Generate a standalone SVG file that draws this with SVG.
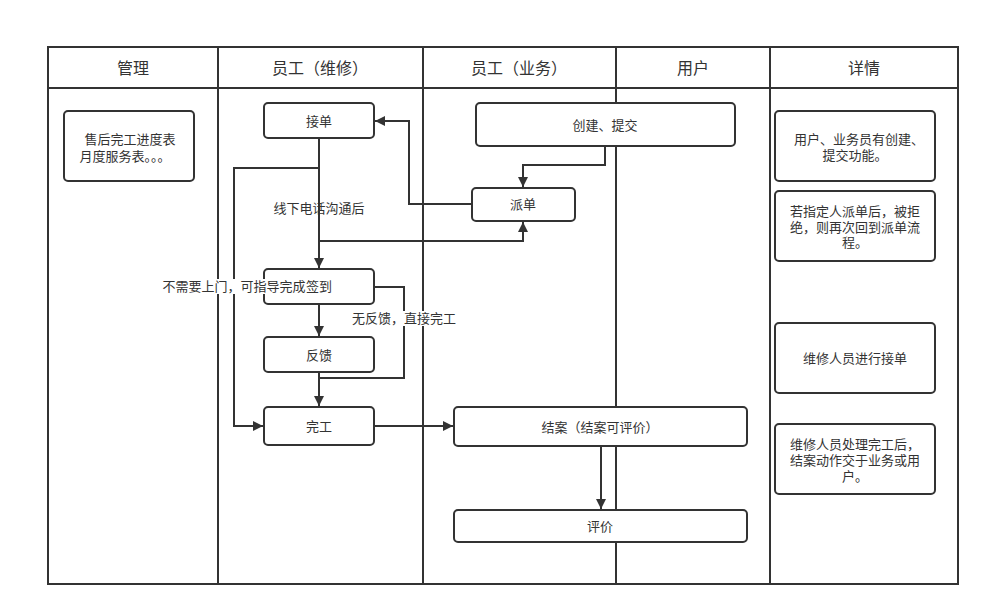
<svg xmlns="http://www.w3.org/2000/svg" width="990" height="616" viewBox="0 0 990 616">
<defs>
<style>
text{font-family:"Liberation Sans","Noto Sans CJK SC",sans-serif;fill:#333;text-anchor:middle;dominant-baseline:central;}
.hd{font-size:16px;}
.t{font-size:13px;}
.lane{fill:none;stroke:#333;stroke-width:2;}
.node{fill:#fff;stroke:#333;stroke-width:2;}
.c{fill:none;stroke:#333;stroke-width:2;}
.lb{fill:#fff;}
</style>
<marker id="arr" viewBox="0 0 10 10" refX="10" refY="5" markerWidth="10" markerHeight="10" markerUnits="userSpaceOnUse" orient="auto">
<path d="M0,0 L10,5 L0,10 z" fill="#333"/>
</marker>
</defs>
<rect width="990" height="616" fill="#fff"/>
<g id="lanes">
<rect class="lane" x="48" y="47" width="910" height="537"/>
<line class="lane" x1="48" y1="88" x2="958" y2="88"/>
<line class="lane" x1="218" y1="47" x2="218" y2="584"/>
<line class="lane" x1="423" y1="47" x2="423" y2="584"/>
<line class="lane" x1="616" y1="47" x2="616" y2="584"/>
<line class="lane" x1="770" y1="47" x2="770" y2="584"/>
<text class="hd" x="133" y="68">管理</text>
<text class="hd" x="320" y="68">员工（维修）</text>
<text class="hd" x="519" y="68">员工（业务）</text>
<text class="hd" x="693" y="68">用户</text>
<text class="hd" x="864" y="68">详情</text>
</g>
<g id="connectors">
<path class="c" d="M319,138 L319,268" marker-end="url(#arr)"/>
<path class="c" d="M319,168 L234,168 L234,426 L263,426" marker-end="url(#arr)"/>
<path class="c" d="M319,241 L523,241 L523,222" marker-end="url(#arr)"/>
<path class="c" d="M472,204 L409,204 L409,121 L375,121" marker-end="url(#arr)"/>
<path class="c" d="M605,146 L605,165 L523,165 L523,187" marker-end="url(#arr)"/>
<path class="c" d="M319,304 L319,336" marker-end="url(#arr)"/>
<path class="c" d="M374,287 L404,287 L404,378 L319,378"/>
<path class="c" d="M319,372 L319,406" marker-end="url(#arr)"/>
<path class="c" d="M374,426 L453,426" marker-end="url(#arr)"/>
<path class="c" d="M601,446 L601,509" marker-end="url(#arr)"/>
<text class="t" x="319" y="208">线下电话沟通后</text>
</g>
<g id="n-mgmt">
<rect class="node" x="64" y="111" width="130" height="70" rx="4"/>
<text class="t" x="130" y="139">售后完工进度表</text>
<text class="t" x="125" y="156">月度服务表。。。</text>
</g>
<g id="n-jiedan">
<rect class="node" x="264" y="103" width="110" height="35" rx="4"/>
<text class="t" x="319" y="121">接单</text>
</g>
<g id="n-create">
<rect class="node" x="476" y="103" width="259" height="43" rx="4"/>
<text class="t" x="605" y="125">创建、提交</text>
</g>
<g id="n-paidan">
<rect class="node" x="472" y="188" width="103" height="33" rx="4"/>
<text class="t" x="523" y="204">派单</text>
</g>
<g id="n-qiandao">
<rect class="node" x="264" y="269" width="110" height="35" rx="4"/>
<text class="t" x="319" y="286">签到</text>
</g>
<g id="n-fankui">
<rect class="node" x="264" y="337" width="110" height="35" rx="4"/>
<text class="t" x="319" y="355">反馈</text>
</g>
<g id="n-wangong">
<rect class="node" x="264" y="407" width="110" height="38" rx="4"/>
<text class="t" x="319" y="426">完工</text>
</g>
<g id="n-jiean">
<rect class="node" x="454" y="407" width="293" height="39" rx="4"/>
<text class="t" x="600" y="427">结案（结案可评价）</text>
</g>
<g id="n-pingjia">
<rect class="node" x="454" y="510" width="293" height="32" rx="4"/>
<text class="t" x="600" y="526">评价</text>
</g>
<g id="n-d1">
<rect class="node" x="775" y="111" width="160" height="70" rx="4"/>
<text class="t" x="859" y="139">用户、业务员有创建、</text>
<text class="t" x="855" y="155">提交功能。</text>
</g>
<g id="n-d2">
<rect class="node" x="775" y="191" width="160" height="70" rx="4"/>
<text class="t" x="855" y="211">若指定人派单后，被拒</text>
<text class="t" x="855" y="227">绝，则再次回到派单流</text>
<text class="t" x="855" y="242">程。</text>
</g>
<g id="n-d3">
<rect class="node" x="775" y="323" width="160" height="70" rx="4"/>
<text class="t" x="855" y="358">维修人员进行接单</text>
</g>
<g id="n-d4">
<rect class="node" x="775" y="424" width="160" height="70" rx="4"/>
<text class="t" x="855" y="444">维修人员处理完工后，</text>
<text class="t" x="855" y="460">结案动作交于业务或用</text>
<text class="t" x="855" y="476">户。</text>
</g>
<g id="labels">
<rect class="lb" x="163" y="279" width="143" height="15"/>
<text class="t" x="234" y="286">不需要上门，可指导完成</text>
<rect class="lb" x="352" y="311" width="105" height="15"/>
<text class="t" x="404" y="318">无反馈，直接完工</text>
</g>
</svg>
